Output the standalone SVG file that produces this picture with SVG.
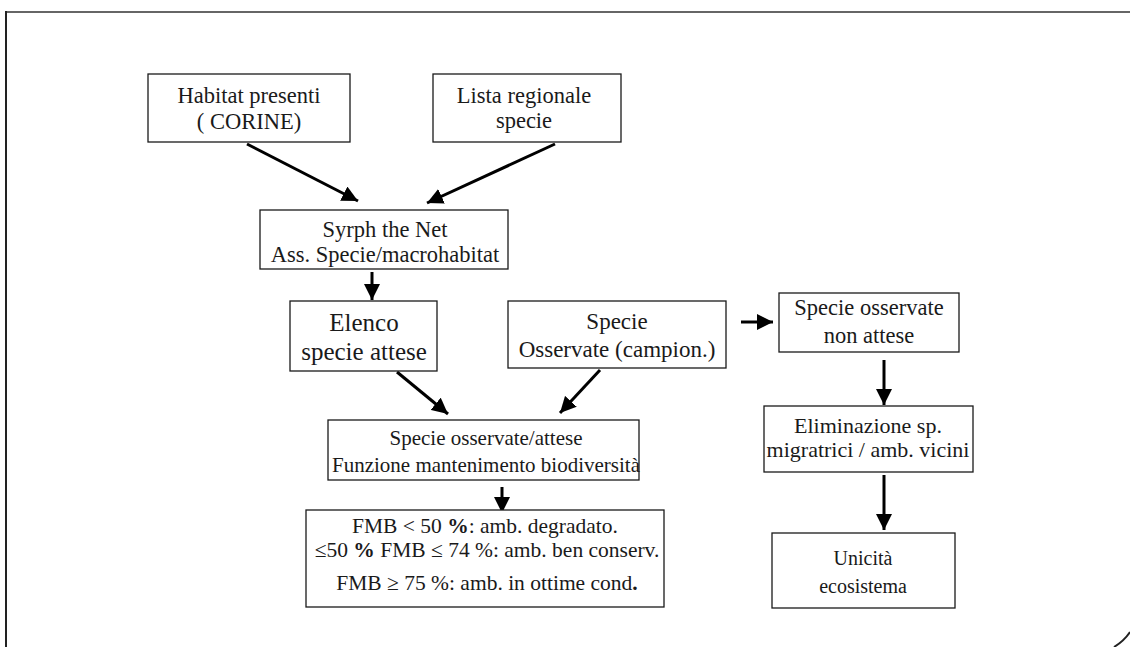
<svg xmlns="http://www.w3.org/2000/svg" width="1130" height="647" viewBox="0 0 1130 647">
<defs>
<style>
.box{fill:#fff;stroke:#1a1a1a;stroke-width:1.3}
.t{font-family:'Liberation Serif','Tinos','DejaVu Serif',serif;fill:#1a1a1a;text-anchor:middle}
.c{stroke:#000;stroke-width:3;fill:none;marker-end:url(#ah)}
</style>
<marker id="ah" markerUnits="userSpaceOnUse" markerWidth="18" markerHeight="16" refX="16" refY="8" orient="auto">
<path d="M0,0 L16,8 L0,16 z" fill="#000"/>
</marker>
</defs>
<rect width="1130" height="647" fill="#fff"/>
<g id="frame">
<path d="M6,12 H1130" stroke="#666" stroke-width="2" fill="none"/>
<path d="M6,11 V647" stroke="#222" stroke-width="2" fill="none"/>
<path d="M1114,647 Q1124,641 1130,632" stroke="#222" stroke-width="2" fill="none"/>
</g>
<g id="connectors">
<line class="c" x1="247" y1="144" x2="358" y2="201"/>
<line class="c" x1="555" y1="144" x2="427" y2="203"/>
<line class="c" x1="372" y1="272" x2="372" y2="300"/>
<line class="c" x1="397" y1="372" x2="448" y2="414"/>
<line class="c" x1="600" y1="370" x2="560" y2="413"/>
<line class="c" x1="741" y1="322" x2="773" y2="322"/>
<line class="c" x1="502" y1="487" x2="502" y2="513"/>
<line class="c" x1="884" y1="360" x2="884" y2="405"/>
<line class="c" x1="884" y1="475" x2="884" y2="530"/>
</g>
<g id="habitat">
<rect class="box" x="148" y="74" width="202" height="68"/>
<text class="t" font-size="22.5" x="249" y="103">Habitat presenti</text>
<text class="t" font-size="22.5" x="249" y="129">( CORINE)</text>
</g>
<g id="lista">
<rect class="box" x="433" y="74" width="188" height="68"/>
<text class="t" font-size="22.5" x="524" y="103">Lista regionale</text>
<text class="t" font-size="22.5" x="524" y="128">specie</text>
</g>
<g id="syrph">
<rect class="box" x="260" y="210" width="248" height="59"/>
<text class="t" font-size="22.5" x="385" y="237">Syrph the Net</text>
<text class="t" font-size="22.5" x="385" y="262">Ass. Specie/macrohabitat</text>
</g>
<g id="elenco">
<rect class="box" x="290" y="301" width="147" height="70"/>
<text class="t" font-size="25" x="364" y="331">Elenco</text>
<text class="t" font-size="25" x="364" y="360">specie attese</text>
</g>
<g id="osservate">
<rect class="box" x="508" y="301" width="218" height="67"/>
<text class="t" font-size="23" x="617" y="329">Specie</text>
<text class="t" font-size="23" x="617" y="357">Osservate (campion.)</text>
</g>
<g id="nonattese">
<rect class="box" x="779" y="293" width="180" height="59"/>
<text class="t" font-size="22.5" x="869" y="315">Specie osservate</text>
<text class="t" font-size="22.5" x="869" y="343">non attese</text>
</g>
<g id="rapporto">
<rect class="box" x="328" y="420" width="311" height="60"/>
<text class="t" font-size="21" x="486" y="445">Specie osservate/attese</text>
<text class="t" font-size="21" x="486" y="472">Funzione mantenimento biodiversità</text>
</g>
<g id="eliminazione">
<rect class="box" x="764" y="406" width="209" height="66"/>
<text class="t" font-size="22" x="868" y="433">Eliminazione sp.</text>
<text class="t" font-size="22" x="868" y="457">migratrici / amb. vicini</text>
</g>
<g id="fmb">
<rect class="box" x="306" y="510" width="358" height="97"/>
<text class="t" font-size="21.5" x="485" y="533">FMB &lt; 50 <tspan font-weight="bold">%</tspan>: amb. degradato.</text>
<text class="t" font-size="21.5" x="487" y="557">≤50 <tspan font-weight="bold">%</tspan> FMB ≤ 74 %: amb. ben conserv.</text>
<text class="t" font-size="21.5" x="487" y="590">FMB ≥ 75 %: amb. in ottime cond<tspan font-weight="bold">.</tspan></text>
</g>
<g id="unicita">
<rect class="box" x="772" y="533" width="183" height="75"/>
<text class="t" font-size="20" x="863" y="565">Unicità</text>
<text class="t" font-size="20" x="863" y="593">ecosistema</text>
</g>
</svg>
